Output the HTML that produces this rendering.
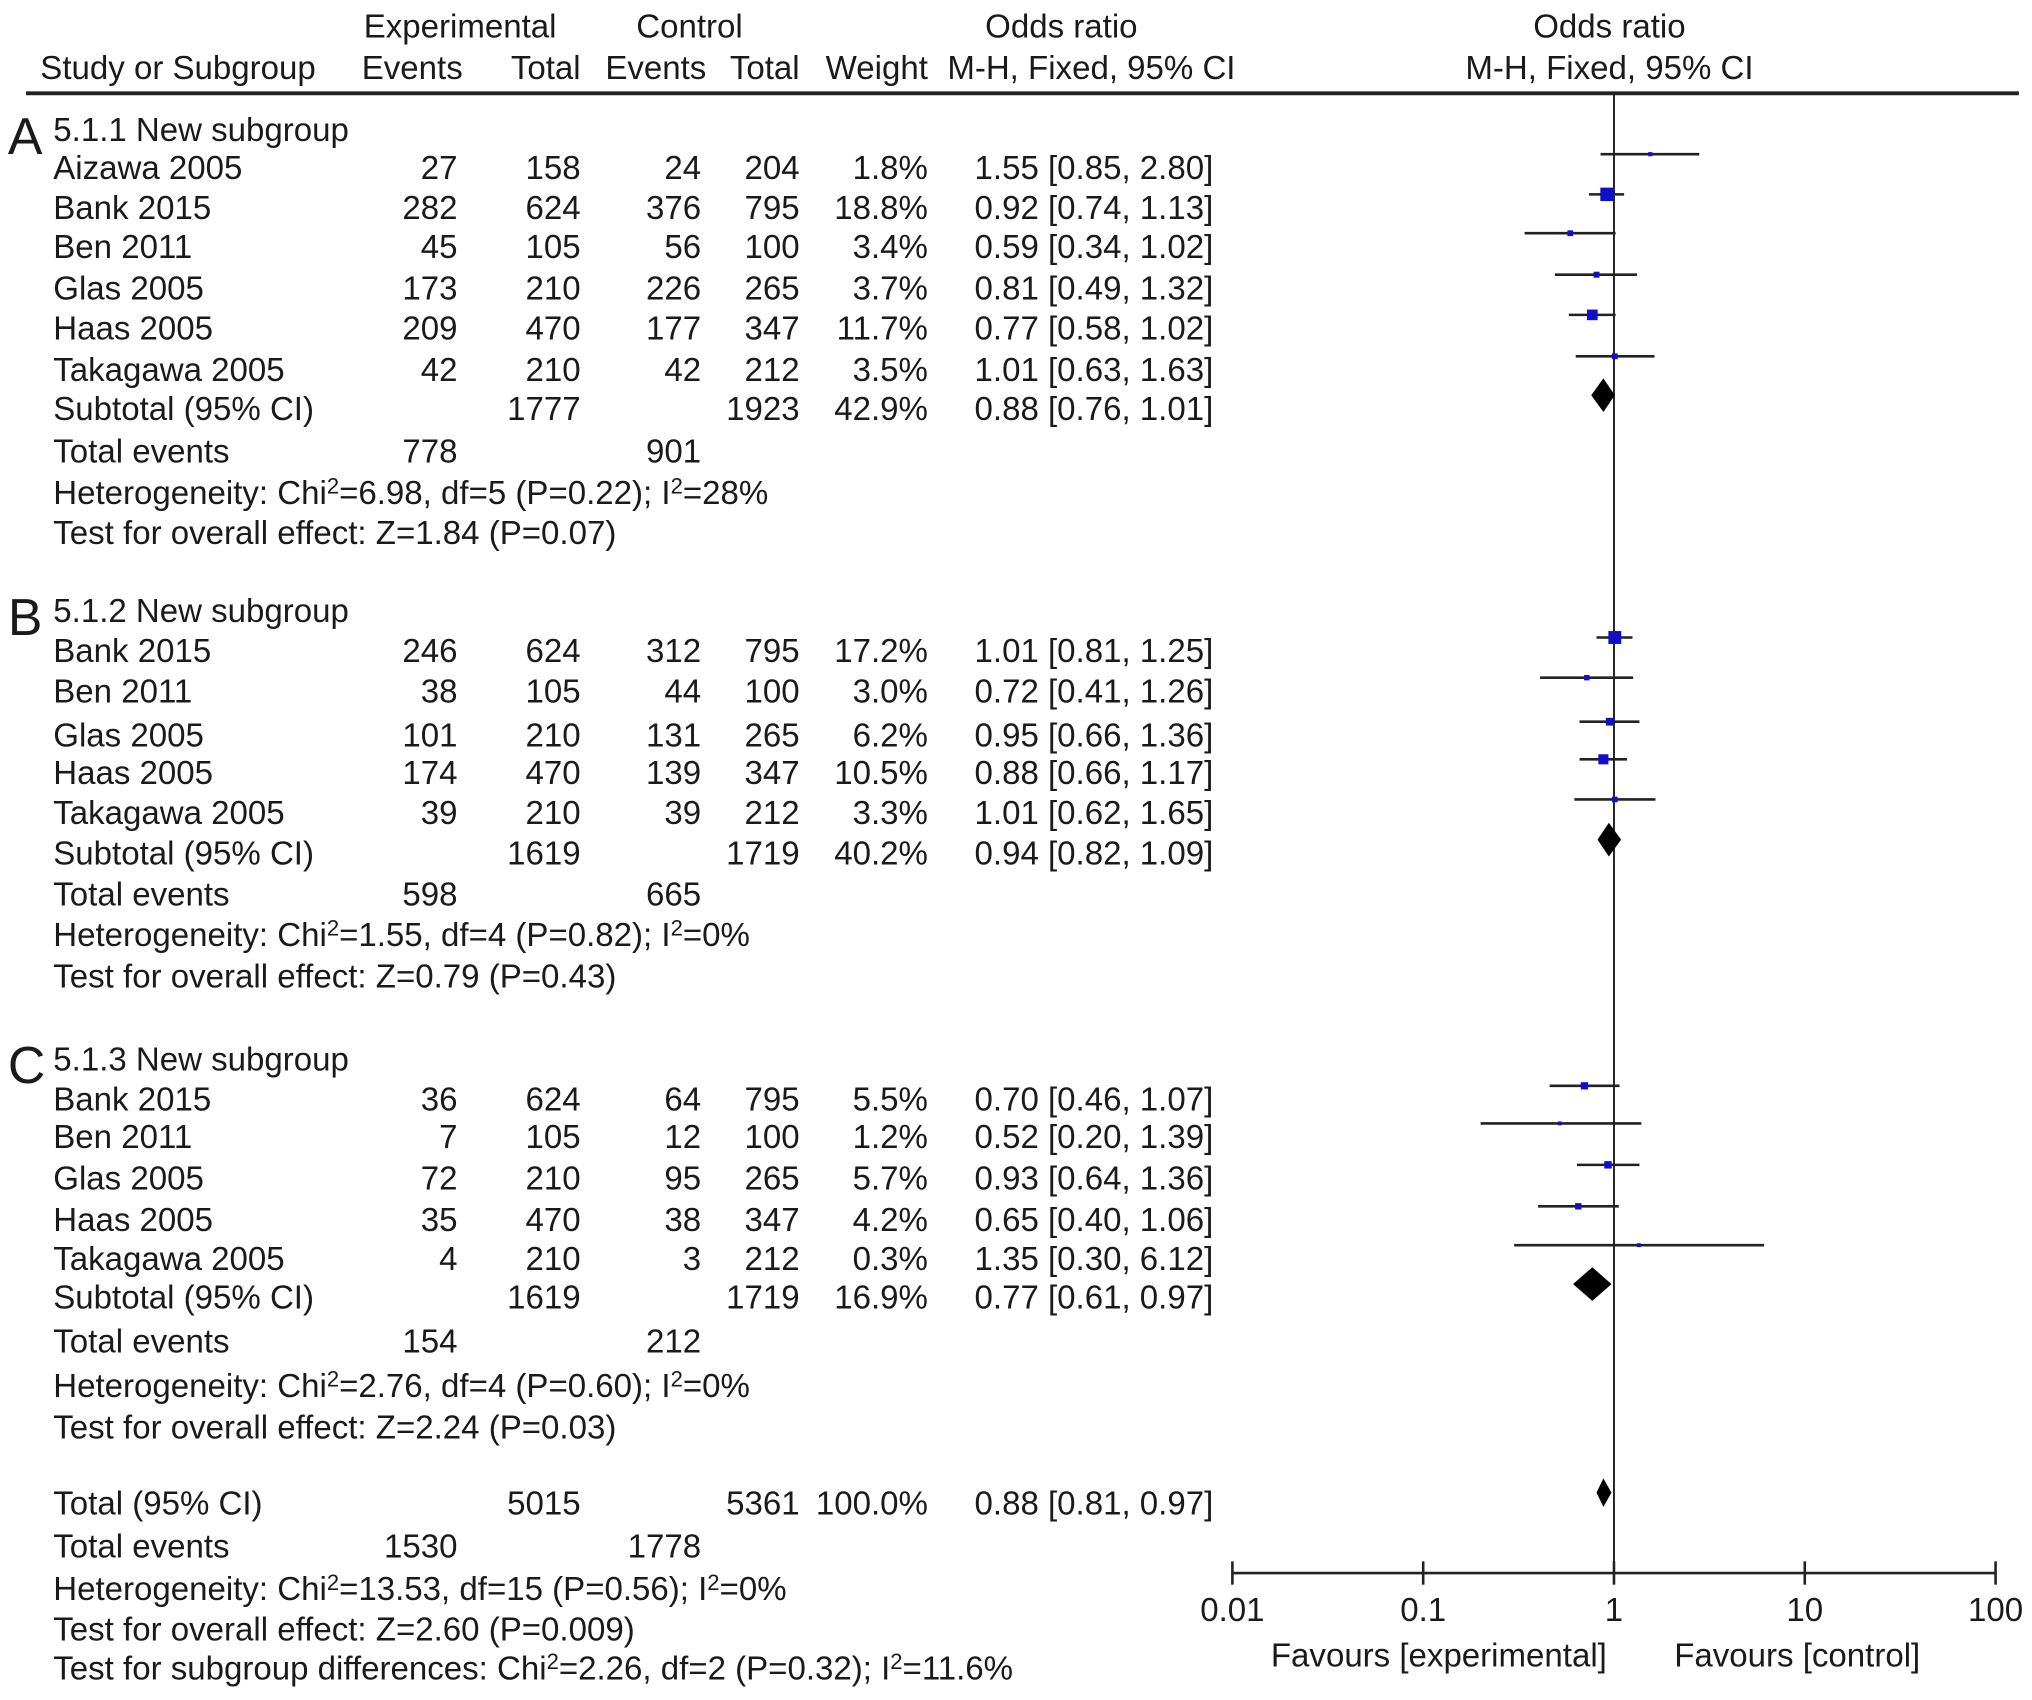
<!DOCTYPE html>
<html><head><meta charset="utf-8"><style>
html,body{margin:0;padding:0;background:#fff}
svg{display:block}
text{font-family:"Liberation Sans",Arial,sans-serif;font-size:25.5px;fill:#1a1a1a}
</style></head><body>
<svg id="chart" width="2032" height="1700" viewBox="0 0 1568 1312" xmlns="http://www.w3.org/2000/svg">
<g>
<text x="355" y="29" text-anchor="middle">Experimental</text>
<text x="532" y="29" text-anchor="middle">Control</text>
<text x="819" y="29" text-anchor="middle">Odds ratio</text>
<text x="1242" y="29" text-anchor="middle">Odds ratio</text>
<text x="31" y="61">Study or Subgroup</text>
<text x="357" y="61" text-anchor="end">Events</text>
<text x="448" y="61" text-anchor="end">Total</text>
<text x="545" y="61" text-anchor="end">Events</text>
<text x="617" y="61" text-anchor="end">Total</text>
<text x="716" y="61" text-anchor="end">Weight</text>
<text x="731" y="61">M-H, Fixed, 95% CI</text>
<text x="1242" y="61" text-anchor="middle">M-H, Fixed, 95% CI</text>
<rect x="20" y="70.5" width="1538" height="3" fill="#222"/>
</g>
<g id="rows"></g>
<g id="plot"></g>
</svg>
<script>
const NS="http://www.w3.org/2000/svg";
// data
const groupLabels=["A","B","C"];
const groupTitles=["5.1.1 New subgroup","5.1.2 New subgroup","5.1.3 New subgroup"];
const studyNames=[
["Aizawa 2005","Bank 2015","Ben 2011","Glas 2005","Haas 2005","Takagawa 2005"],
["Bank 2015","Ben 2011","Glas 2005","Haas 2005","Takagawa 2005"],
["Bank 2015","Ben 2011","Glas 2005","Haas 2005","Takagawa 2005"]];
const expEvents=[[27,282,45,173,209,42],[246,38,101,174,39],[36,7,72,35,4]];
const expTotal=[[158,624,105,210,470,210],[624,105,210,470,210],[624,105,210,470,210]];
const ctrlEvents=[[24,376,56,226,177,42],[312,44,131,139,39],[64,12,95,38,3]];
const ctrlTotal=[[204,795,100,265,347,212],[795,100,265,347,212],[795,100,265,347,212]];
const weights=[[1.8,18.8,3.4,3.7,11.7,3.5],[17.2,3.0,6.2,10.5,3.3],[5.5,1.2,5.7,4.2,0.3]];
const orVals=[[1.55,0.92,0.59,0.81,0.77,1.01],[1.01,0.72,0.95,0.88,1.01],[0.70,0.52,0.93,0.65,1.35]];
const ciLow=[[0.85,0.74,0.34,0.49,0.58,0.63],[0.81,0.41,0.66,0.66,0.62],[0.46,0.20,0.64,0.40,0.30]];
const ciHigh=[[2.80,1.13,1.02,1.32,1.02,1.63],[1.25,1.26,1.36,1.17,1.65],[1.07,1.39,1.36,1.06,6.12]];
const subExpTotal=[1777,1619,1619];
const subCtrlTotal=[1923,1719,1719];
const subWeight=["42.9%","40.2%","16.9%"];
const subOr=[0.88,0.94,0.77];
const subLow=[0.76,0.82,0.61];
const subHigh=[1.01,1.09,0.97];
const subExpEvents=[778,598,154];
const subCtrlEvents=[901,665,212];
const hetText=[["6.98, df=5 (P=0.22); I","28%"],["1.55, df=4 (P=0.82); I","0%"],["2.76, df=4 (P=0.60); I","0%"]];
const testText=["Z=1.84 (P=0.07)","Z=0.79 (P=0.43)","Z=2.24 (P=0.03)"];
const totalOr=0.88, totalLow=0.81, totalHigh=0.97;
const tickVals=[0.01,0.1,1,10,100];
const tickLabels=["0.01","0.1","1","10","100"];

const X0=951,X1=1540,lmin=-2,lmax=2;
const xs=v=>X0+(Math.log10(v)-lmin)/(lmax-lmin)*(X1-X0);
const rows=document.getElementById('rows'),plot=document.getElementById('plot');
function T(x,y,s,anchor,parent){const t=document.createElementNS(NS,'text');t.setAttribute('x',x);t.setAttribute('y',y);if(anchor)t.setAttribute('text-anchor',anchor);t.textContent=s;(parent||rows).appendChild(t);return t;}
function sup(t,a,b,c){t.textContent='';t.appendChild(document.createTextNode(a));const s=document.createElementNS(NS,'tspan');s.setAttribute('dy','-8');s.setAttribute('font-size','17');s.textContent=b;t.appendChild(s);const r=document.createElementNS(NS,'tspan');r.setAttribute('dy','8');r.textContent=c;t.appendChild(r);}
function sup2(t,c){const a=document.createElementNS(NS,'tspan');a.setAttribute('dy','-8');a.setAttribute('font-size','17');a.textContent='2';t.appendChild(a);const b=document.createElementNS(NS,'tspan');b.setAttribute('dy','8');b.textContent=c;t.appendChild(b);}
function L(x1,y1,x2,y2,w){const l=document.createElementNS(NS,'line');l.setAttribute('x1',x1);l.setAttribute('y1',y1);l.setAttribute('x2',x2);l.setAttribute('y2',y2);l.setAttribute('stroke','#222');l.setAttribute('stroke-width',w||2);plot.appendChild(l);return l;}
function diamond(o,lo,hi,y,h){const p=document.createElementNS(NS,'polygon');p.setAttribute('points',`${xs(lo)},${y} ${xs(o)},${y-h} ${xs(hi)},${y} ${xs(o)},${y+h}`);p.setAttribute('fill','#000');plot.appendChild(p);return p;}
const f2=v=>v.toFixed(2);
const ci=(o,l,h)=>`${f2(o)} [${f2(l)}, ${f2(h)}]`;
const rowY=[[100,129,160,190,222,253,285,315,348,380,411],[471,502,533,567,596,627,658,690,721,753],[817,848,877,909,941,971,1001,1035,1069,1101]];
const labY=[104,475,821];

const ref=L(xs(1),72,xs(1),1214,1.5);



for(let g=0;g<3;g++){
  const Y=rowY[g];
  const lab=T(6,labY[g]+15,groupLabels[g]);lab.style.fontSize='40px';
  
  
  const gt=T(41,Y[0]+9,groupTitles[g]);
  
  
  const n=studyNames[g].length;
  for(let i=0;i<n;i++){
    const y=Y[i+1]+9;
    const nm=T(41,y,studyNames[g][i]);
    
    
    T(353,y,expEvents[g][i],'end');T(448,y,expTotal[g][i],'end');
    T(541,y,ctrlEvents[g][i],'end');T(617,y,ctrlTotal[g][i],'end');
    T(716,y,weights[g][i].toFixed(1)+'%','end');
    T(752,y,ci(orVals[g][i],ciLow[g][i],ciHigh[g][i]));
    const my=Y[i+1]-10;
    const cl=L(xs(ciLow[g][i]),my,xs(ciHigh[g][i]),my,2);
    
    
    const s=Math.max(3,Math.sqrt(weights[g][i])*2.4);
    const r=document.createElementNS(NS,'rect');
    r.setAttribute('x',xs(orVals[g][i])-s/2);r.setAttribute('y',my-s/2);r.setAttribute('width',s);r.setAttribute('height',s);r.setAttribute('fill','#1010c8');
    
    
    plot.appendChild(r);
  }
  const sy=Y[n+1]+9;
  T(41,sy,'Subtotal (95% CI)');T(448,sy,subExpTotal[g],'end');T(617,sy,subCtrlTotal[g],'end');
  T(716,sy,subWeight[g],'end');T(752,sy,ci(subOr[g],subLow[g],subHigh[g]));
  const d=diamond(subOr[g],subLow[g],subHigh[g],Y[n+1]-10,13);
  
  
  const ey=Y[n+2]+9;
  T(41,ey,'Total events');T(353,ey,subExpEvents[g],'end');T(541,ey,subCtrlEvents[g],'end');
  const h=T(41,Y[n+3]+9,'');sup(h,'Heterogeneity: Chi','2','='+hetText[g][0]);sup2(h,'='+hetText[g][1]);
  T(41,Y[n+4]+9,'Test for overall effect: '+testText[g]);
}
T(41,1169,'Total (95% CI)');T(448,1169,'5015','end');T(617,1169,'5361','end');T(716,1169,'100.0%','end');T(752,1169,ci(totalOr,totalLow,totalHigh));
const td=diamond(totalOr,totalLow,totalHigh,1152,11);


T(41,1202,'Total events');T(353,1202,'1530','end');T(541,1202,'1778','end');
const h2=T(41,1235,'');sup(h2,'Heterogeneity: Chi','2','=13.53, df=15 (P=0.56); I');sup2(h2,'=0%');
T(41,1266,'Test for overall effect: Z=2.60 (P=0.009)');
const h3=T(41,1296,'');sup(h3,'Test for subgroup differences: Chi','2','=2.26, df=2 (P=0.32); I');sup2(h3,'=11.6%');

const ax=L(X0,1214,X1,1214,2);


tickVals.forEach((v,i)=>{
  const t=L(xs(v),1205,xs(v),1223,2);
  
  
  const lb=T(xs(v),1251,tickLabels[i],'middle',plot);
  
  
});
const fe=T(1240,1286,'Favours [experimental]','end',plot);


const fc=T(1292,1286,'Favours [control]','start',plot);


</script>
</body></html>
